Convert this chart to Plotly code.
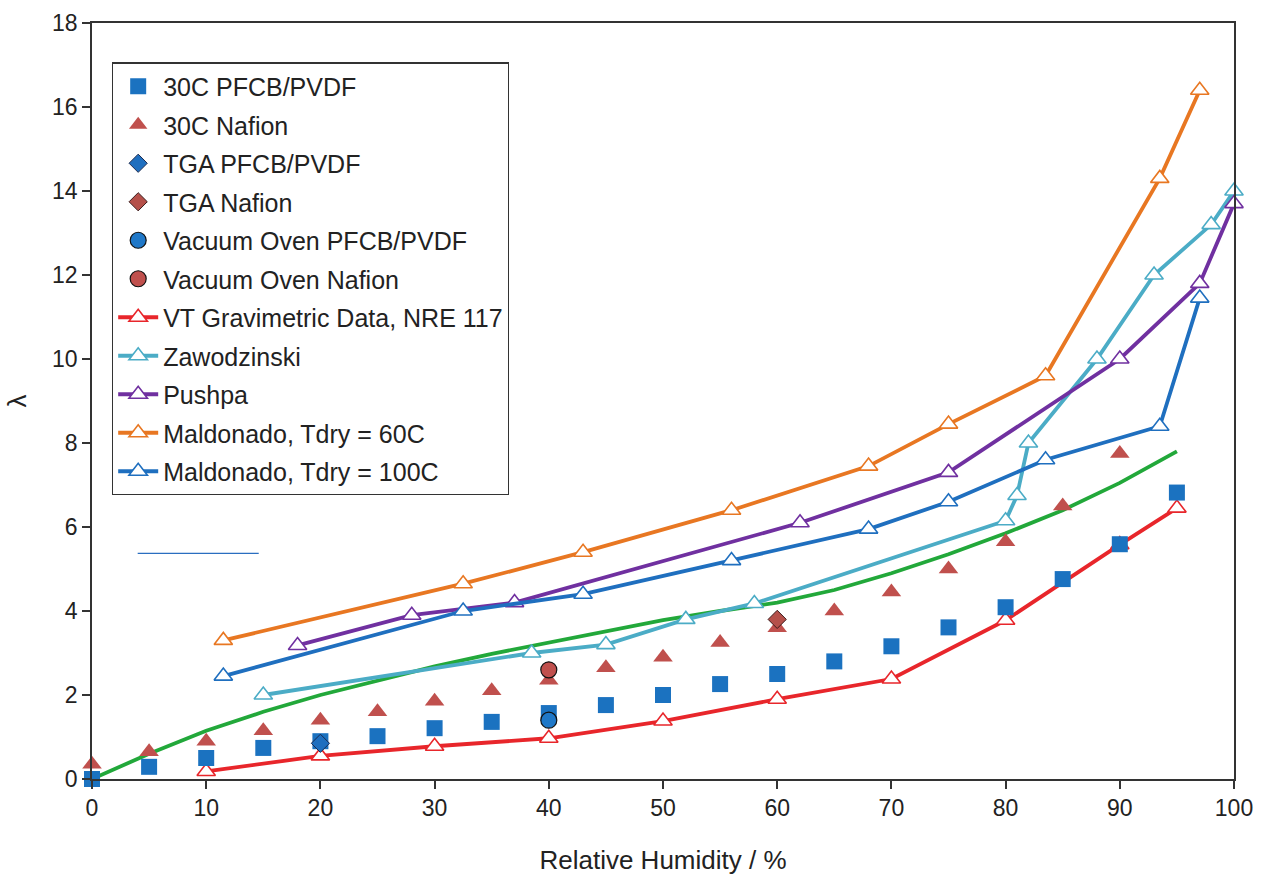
import plotly.graph_objects as go

# ---- data ----
rh_30c = [0, 5, 10, 15, 20, 25, 30, 35, 40, 45, 50, 55, 60, 65, 70, 75, 80, 85, 90, 95]
lam_30c_pfcb = [0.0, 0.29, 0.5, 0.74, 0.9, 1.02, 1.21, 1.36, 1.57, 1.76, 2.0, 2.26, 2.5, 2.8, 3.16, 3.61, 4.09, 4.76, 5.59, 6.82]
rh_30c_naf = [0, 5, 10, 15, 20, 25, 30, 35, 40, 45, 50, 55, 60, 65, 70, 75, 80, 85, 90]
lam_30c_naf = [0.35, 0.65, 0.9, 1.15, 1.4, 1.6, 1.85, 2.1, 2.35, 2.65, 2.9, 3.25, 3.6, 4.0, 4.45, 5.0, 5.65, 6.5, 7.75]

tga_pfcb_x, tga_pfcb_y = [20], [0.85]
tga_naf_x, tga_naf_y = [60], [3.8]
vac_pfcb_x, vac_pfcb_y = [40], [1.4]
vac_naf_x, vac_naf_y = [40], [2.6]

vt_x = [10, 20, 30, 40, 50, 60, 70, 80, 90, 95]
vt_y = [0.18, 0.55, 0.78, 0.97, 1.38, 1.9, 2.38, 3.78, 5.58, 6.45]

zaw_x = [15, 38.5, 45, 52, 58, 80, 81, 82, 88, 93, 98, 100]
zaw_y = [2.0, 3.0, 3.2, 3.8, 4.18, 6.15, 6.75, 8.0, 10.0, 12.0, 13.2, 14.0]

push_x = [18, 28, 37, 62, 75, 90, 97, 100]
push_y = [3.18, 3.9, 4.2, 6.1, 7.3, 10.0, 11.8, 13.7]

mal60_x = [11.5, 32.5, 43, 56, 68, 75, 83.5, 93.5, 97]
mal60_y = [3.3, 4.65, 5.4, 6.4, 7.45, 8.45, 9.6, 14.3, 16.4]

mal100_x = [11.5, 32.5, 43, 56, 68, 75, 83.5, 93.5, 97]
mal100_y = [2.45, 4.0, 4.4, 5.2, 5.95, 6.6, 7.6, 8.4, 11.45]

fit_x = [0, 5, 10, 15, 20, 25, 30, 35, 40, 45, 50, 55, 60, 65, 70, 75, 80, 85, 90, 95]
fit_y = [0.0, 0.6, 1.15, 1.6, 2.0, 2.35, 2.68, 2.98, 3.25, 3.5, 3.78, 4.0, 4.2, 4.5, 4.9, 5.35, 5.85, 6.4, 7.05, 7.8]

stray_x = [4.0, 14.6]
stray_y = [5.37, 5.37]

# ---- figure ----
fig = go.Figure()

def pts(x, y, name, symbol, color, size, line=None):
    fig.add_trace(go.Scatter(
        x=x, y=y, name=name, mode="markers", cliponaxis=False,
        marker=dict(symbol=symbol, color=color, size=size,
                    line=line or dict(width=0)),
        legendgroup=name))

def curve(x, y, name, color):
    fig.add_trace(go.Scatter(
        x=x, y=y, name=name, mode="lines+markers", cliponaxis=False,
        line=dict(color=color, width=3.8),
        marker=dict(symbol="triangle-up", size=16, color="white",
                    line=dict(color=color, width=1.6)),
        legendgroup=name))

# fit curve (drawn underneath, not in legend)
fig.add_trace(go.Scatter(x=fit_x, y=fit_y, mode="lines", showlegend=False,
                         line=dict(color="#22A83A", width=3.8), cliponaxis=False))
fig.add_trace(go.Scatter(x=stray_x, y=stray_y, mode="lines", showlegend=False,
                         line=dict(color="#2A6EC0", width=1.3)))

curve(vt_x, vt_y, "VT Gravimetric Data, NRE 117", "#E8262B")
curve(zaw_x, zaw_y, "Zawodzinski", "#4BACC6")
curve(push_x, push_y, "Pushpa", "#7030A0")
curve(mal60_x, mal60_y, "Maldonado, Tdry = 60C", "#E87722")
curve(mal100_x, mal100_y, "Maldonado, Tdry = 100C", "#1F6FBF")

pts(rh_30c, lam_30c_pfcb, "30C PFCB/PVDF", "square", "#1B72C0", 16)
pts(rh_30c_naf, lam_30c_naf, "30C Nafion", "triangle-up", "#C0504D", 17)
pts(tga_pfcb_x, tga_pfcb_y, "TGA PFCB/PVDF", "diamond", "#1F6FBF", 14,
    dict(color="#1a2a50", width=1))
pts(tga_naf_x, tga_naf_y, "TGA Nafion", "diamond", "#B5504A", 14,
    dict(color="#3a1a1a", width=1))
pts(vac_pfcb_x, vac_pfcb_y, "Vacuum Oven PFCB/PVDF", "circle", "#1F78C8", 16,
    dict(color="#111111", width=1.2))
pts(vac_naf_x, vac_naf_y, "Vacuum Oven Nafion", "circle", "#C0504D", 16,
    dict(color="#111111", width=1.2))

# legend order: markers first, then curves
order = ["30C PFCB/PVDF", "30C Nafion", "TGA PFCB/PVDF", "TGA Nafion",
         "Vacuum Oven PFCB/PVDF", "Vacuum Oven Nafion",
         "VT Gravimetric Data, NRE 117", "Zawodzinski", "Pushpa",
         "Maldonado, Tdry = 60C", "Maldonado, Tdry = 100C"]
for tr in fig.data:
    if tr.name in order:
        tr.legendrank = order.index(tr.name) + 1

axis_common = dict(showline=True, linecolor="#333333", linewidth=1.5, mirror=True,
                   ticks="outside", ticklen=8, tickcolor="#333333", tickwidth=1.5,
                   showgrid=False, zeroline=False, automargin=False,
                   tickfont=dict(family="Liberation Sans, Arial", size=23, color="#222222"))

fig.update_layout(
    width=1261, height=879,
    margin=dict(l=92, r=27, t=23, b=100),
    paper_bgcolor="white", plot_bgcolor="white",
    font=dict(family="Liberation Sans, Arial", color="#222222"),
    xaxis=dict(range=[0, 100], dtick=10,
               title=dict(text="Relative Humidity / %", font=dict(size=26), standoff=30),
               **axis_common),
    yaxis=dict(range=[0, 18], dtick=2,
               title=dict(text="λ", font=dict(size=26), standoff=18),
               **axis_common),
    legend=dict(x=0.0175, y=0.948, xanchor="left", yanchor="top",
                bgcolor="white", bordercolor="#333333", borderwidth=1.2,
                font=dict(size=25, color="#222222"),
                traceorder="grouped", tracegroupgap=3,
                itemwidth=40),
)

fig.write_html("out.html")
